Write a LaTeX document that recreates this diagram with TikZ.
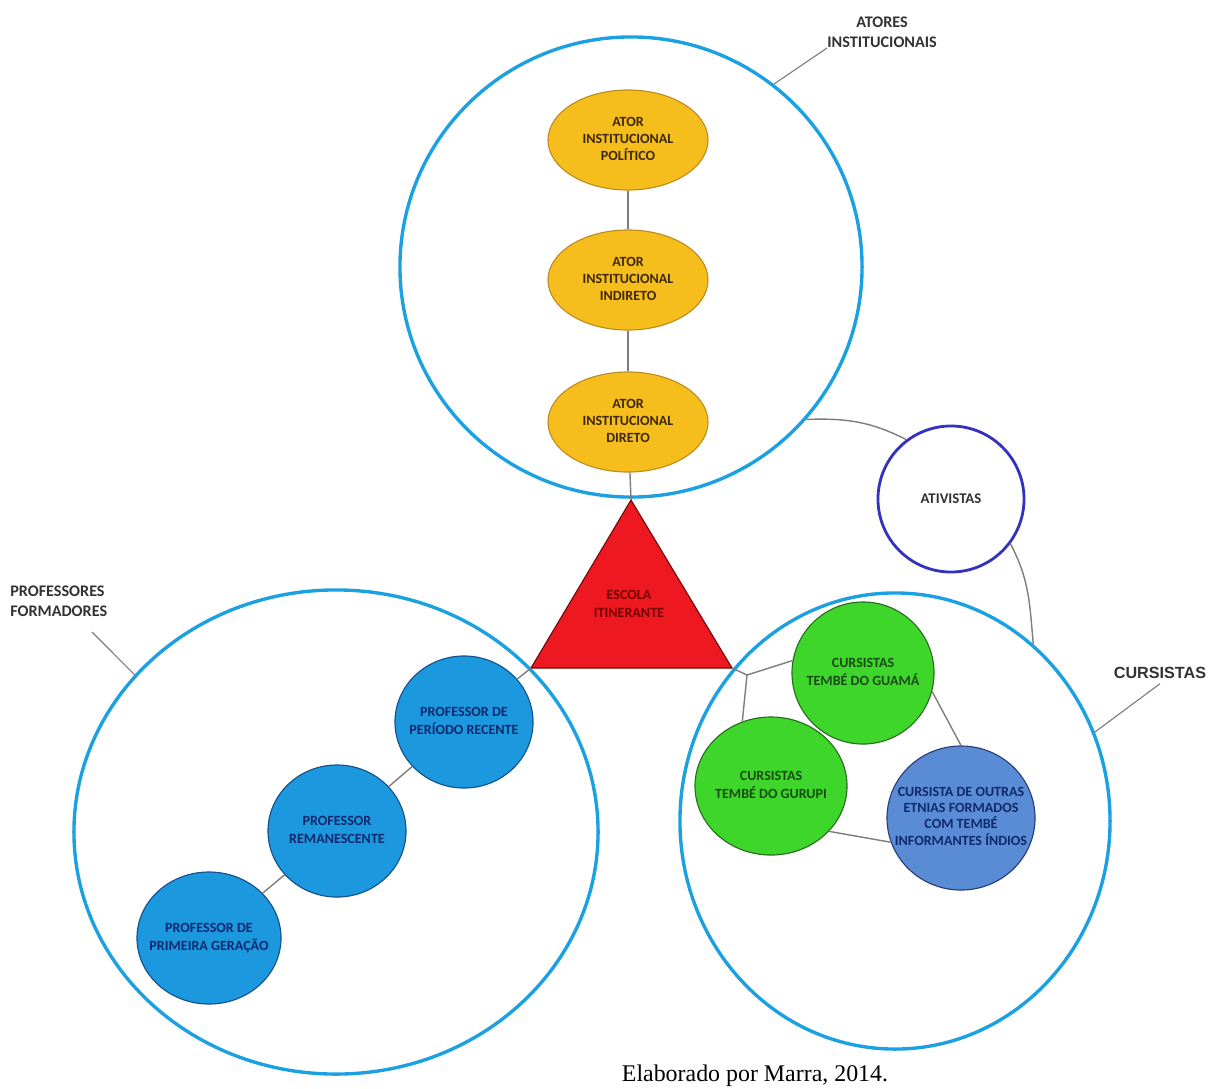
\documentclass[tikz,border=0pt]{standalone}
\usepackage{fontspec}
\usetikzlibrary{shapes.geometric}
\newfontfamily\carlito{Carlito}
\newfontfamily\arialf{Liberation Sans}
\newfontfamily\timesf{Liberation Serif}
\newcommand{\ctext}[1]{\makebox[0pt]{\begin{tabular}{@{}c@{}}#1\end{tabular}}}
\definecolor{azulAnel}{RGB}{27,161,226}
\definecolor{amarelo}{RGB}{246,190,28}
\definecolor{amareloEsc}{RGB}{190,140,30}
\definecolor{marrom}{RGB}{60,40,10}
\definecolor{vermelho}{RGB}{238,24,32}
\definecolor{vermelhoEsc}{RGB}{110,10,10}
\definecolor{vermelhoTexto}{RGB}{120,0,0}
\definecolor{azulProf}{RGB}{28,152,222}
\definecolor{azulProfEsc}{RGB}{20,80,140}
\definecolor{azulTexto}{RGB}{18,40,110}
\definecolor{verde}{RGB}{62,214,42}
\definecolor{verdeEsc}{RGB}{40,110,30}
\definecolor{verdeTexto}{RGB}{25,75,25}
\definecolor{azulEtnia}{RGB}{90,140,214}
\definecolor{azulEtniaEsc}{RGB}{40,60,120}
\definecolor{azulAtiv}{RGB}{50,50,190}
\definecolor{cinza}{RGB}{125,125,125}
\definecolor{cinzaTexto}{RGB}{50,50,50}
\begin{document}
\begin{tikzpicture}[x=0.025cm, y=0.025cm,
    grupo/.style={ellipse, draw=azulAnel, line width=2.4pt, inner sep=0pt},
    txt/.style={font=\carlito\bfseries\fontsize{10}{12.2}\selectfont},
    ator/.style={txt, ellipse, draw=amareloEsc, line width=0.8pt, fill=amarelo, minimum width=4cm, minimum height=2.5cm, inner sep=0pt, text=marrom},
    prof/.style={txt, ellipse, draw=azulProfEsc, line width=0.8pt, fill=azulProf, minimum height=3.3cm, inner sep=0pt, text=azulTexto},
    cursista/.style={txt, circle, draw=verdeEsc, line width=0.8pt, fill=verde, inner sep=0pt, text=verdeTexto},
    liga/.style={draw=cinza, line width=1pt},
    guia/.style={draw=cinza, line width=0.8pt},
    rotulo/.style={font=\carlito\bfseries\fontsize{11.5}{14}\selectfont, text=cinzaTexto, inner sep=0pt}]
    \useasboundingbox (0,0) rectangle (1216,-1088);

    % Atores institucionais
    \node[grupo, minimum width=11.55cm, minimum height=11.5cm] (inst) at (631,-267) {};
    \node[ator] (polit) at (628,-140) {\ctext{ATOR\\INSTITUCIONAL\\POLÍTICO}};
    \node[ator] (indir) at (628,-280) {\ctext{ATOR\\INSTITUCIONAL\\INDIRETO}};
    \node[ator] (diret) at (628,-422) {\ctext{ATOR\\INSTITUCIONAL\\DIRETO}};
    \node[rotulo, align=center, anchor=south west] (lblInst) at (827,-48) {ATORES\\INSTITUCIONAIS};
    \draw[guia] (lblInst.south west) -- (inst.52);

    % Escola itinerante
    \coordinate (escT) at (631,-500);
    \coordinate (escL) at (531,-668);
    \coordinate (escR) at (732,-668);
    \filldraw[fill=vermelho, draw=vermelhoEsc, line width=0.8pt] (escT) -- (escL) -- (escR) -- cycle;
    \node[txt, text=vermelhoTexto] (esc) at (629,-605) {\ctext{ESCOLA\\ITINERANTE}};

    % Professores formadores
    \node[grupo, minimum width=13.1cm, minimum height=12.1cm] (form) at (336,-832) {};
    \node[prof, minimum width=3.45cm] (recente) at (464,-722) {\ctext{PROFESSOR DE\\PERÍODO RECENTE}};
    \node[prof, minimum width=3.45cm] (remanesc) at (337,-831) {\ctext{PROFESSOR\\REMANESCENTE}};
    \node[prof, minimum width=3.6cm] (primeira) at (209,-938) {\ctext{PROFESSOR DE\\PRIMEIRA GERAÇÃO}};
    \node[rotulo, align=left, anchor=north west] (lblProf) at (10,-586) {PROFESSORES\\FORMADORES};
    \coordinate (pProf) at (92,-632);
    \draw[guia] (pProf) -- (form.142);

    % Cursistas
    \node[grupo, minimum width=10.75cm, minimum height=11.4cm] (curs) at (895,-821) {};
    \node[cursista, minimum size=3.55cm] (guama) at (863,-673) {\ctext{CURSISTAS\\TEMBÉ DO GUAMÁ}};
    \node[cursista, ellipse, minimum width=3.8cm, minimum height=3.45cm] (gurupi) at (771,-786) {\ctext{CURSISTAS\\TEMBÉ DO GURUPI}};
    \node[txt, ellipse, draw=azulEtniaEsc, line width=0.8pt, fill=azulEtnia, minimum width=3.7cm, minimum height=3.6cm, inner sep=0pt, text=azulTexto, font=\carlito\bfseries\fontsize{10}{11}\selectfont] (outras) at (961,-818) {\ctext{CURSISTA DE OUTRAS\\ETNIAS FORMADOS\\COM TEMBÉ\\INFORMANTES ÍNDIOS}};
    \node[font=\arialf\bfseries\fontsize{11.5}{14}\selectfont, text=cinzaTexto] (lblCurs) at (1160,-673) {CURSISTAS};
    \draw[guia] (lblCurs.south) -- (curs.24);

    % Ativistas
    \node[circle, draw=azulAtiv, line width=2pt, fill=white, minimum size=3.65cm, font=\carlito\bfseries\fontsize{10.5}{12}\selectfont, text=cinzaTexto] (ativ) at (951,-499) {ATIVISTAS};
    \draw[liga] (inst.-41) to[out=2, in=153] (ativ.127);
    \draw[liga] (ativ.-37) to[out=-62, in=95] (curs.52);

    % Ligacoes
    \draw[liga] (polit) -- (indir);
    \draw[liga] (indir) -- (diret);
    \draw[liga] (diret) -- (escT);
    \draw[liga] (recente) -- (escL);
    \draw[liga] (remanesc) -- (recente);
    \draw[liga] (primeira) -- (remanesc);
    \coordinate (jCurs) at (747,-675);
    \draw[liga] (escR) -- (jCurs) -- (guama.170);
    \draw[liga] (jCurs) -- (gurupi.114);
    \draw[liga] (guama.-15) -- (outras.90);
    \draw[liga] (gurupi.-38) -- (outras.199);

    % Fonte
    \node[font=\timesf\fontsize{17}{19}\selectfont, anchor=base] (fonte) at (755,-1081) {Elaborado por Marra, 2014.};
\end{tikzpicture}
\end{document}
